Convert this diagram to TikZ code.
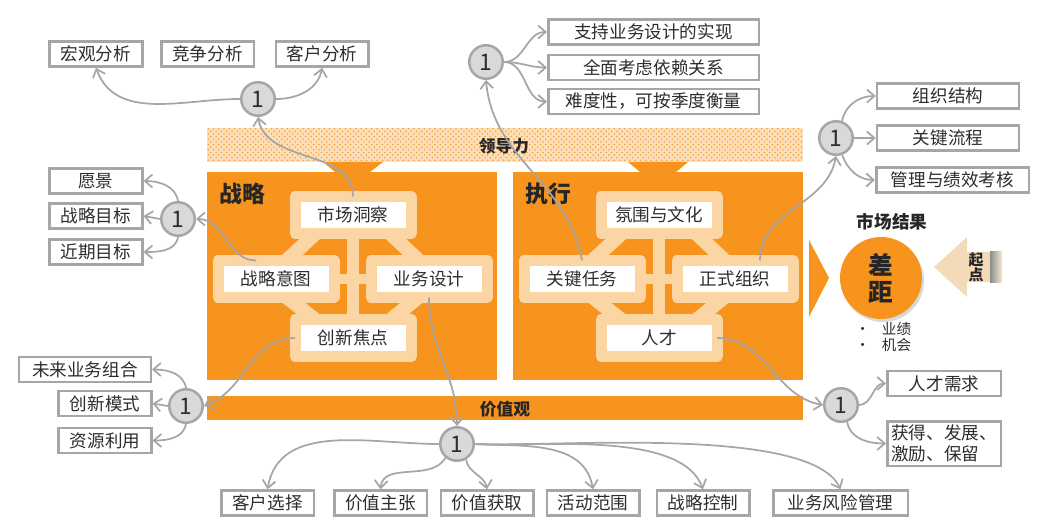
\documentclass[tikz,border=0pt]{standalone}
\usepackage{fontspec}
\setmainfont{Noto Sans CJK SC}
\usetikzlibrary{positioning, arrows.meta, patterns, shadows, backgrounds}
\definecolor{orng}{RGB}{247,148,30}
\definecolor{peach}{RGB}{252,213,165}
\definecolor{sand}{RGB}{244,219,184}
\definecolor{cfill}{RGB}{217,217,217}
\definecolor{lgray}{RGB}{166,166,166}
\definecolor{ink}{RGB}{45,45,45}

\begin{document}
\begin{tikzpicture}[x=0.2mm, y=-0.2mm, >={Straight Barb[length=1.5mm,width=2.6mm]},
    font=\fontsize{10}{12}\selectfont, text=ink,
    box/.style={draw=lgray, line width=0.5mm, fill=white, minimum width=18.5mm, minimum height=5mm, inner sep=1pt},
    num/.style={circle, draw=lgray, line width=0.5mm, fill=cfill, minimum size=6.7mm, inner sep=0pt, font=\fontsize{13}{13}\selectfont},
    inbox/.style={draw=peach, fill=white, line width=2.2mm, line join=round, minimum width=23.2mm, minimum height=7.4mm, inner sep=0pt, outer sep=0pt},
    link/.style={draw=peach, line width=2.8mm},
    conn/.style={->, draw=lgray, line width=0.35mm},
    hdr/.style={font=\fontsize{13}{15}\selectfont\bfseries, text=black!85},
    bar/.style={font=\fontsize{9.5}{11}\selectfont\bfseries, text=black!85}]
    \useasboundingbox (0,0) rectangle (1050,532);

    \node[hdr] (zl) at (242,194) {战略};
    \node[hdr] (zx) at (548,194) {执行};
    \node[bar] (ld) at (504,146) {领导力};
    \node[bar] (jg) at (505,409) {价值观};

    \node[inbox] (sc) at (353,215) {市场洞察};
    \node[inbox] (si) at (276,279) {战略意图};
    \node[inbox] (sd) at (429,279) {业务设计};
    \node[inbox] (sf) at (353,338) {创新焦点};
    \node[inbox] (ec) at (659,215) {氛围与文化};
    \node[inbox] (et) at (582,279) {关键任务};
    \node[inbox] (eo) at (735,279) {正式组织};
    \node[inbox] (ep) at (659,338) {人才};

    \node[box] (a1) at (96,54) {宏观分析};
    \node[box] (a2) at (207.5,54) {竞争分析};
    \node[box] (a3) at (322,54) {客户分析};
    \node[box] (b1) at (96,181) {愿景};
    \node[box] (b2) at (96,216) {战略目标};
    \node[box] (b3) at (96,252) {近期目标};
    \node[box, minimum width=26.3mm] (d1) at (85,369.5) {未来业务组合};
    \node[box] (d2) at (105,403.5) {创新模式};
    \node[box] (d3) at (105,440.5) {资源利用};
    \node[box] (e1) at (267.5,503) {客户选择};
    \node[box] (e2) at (380.5,503) {价值主张};
    \node[box] (e3) at (487,503) {价值获取};
    \node[box] (e4) at (593,503) {活动范围};
    \node[box] (e5) at (703,503) {战略控制};
    \node[box, minimum width=26.9mm] (e6) at (840.5,503) {业务风险管理};
    \node[box, minimum width=42.1mm] (f1) at (653.5,32) {支持业务设计的实现};
    \node[box, minimum width=42.1mm] (f2) at (653.5,67.5) {全面考虑依赖关系};
    \node[box, minimum width=42.1mm] (f3) at (653.5,101.5) {难度性，可按季度衡量};
    \node[box, minimum width=28.4mm] (g1) at (948,96) {组织结构};
    \node[box, minimum width=28.4mm] (g2) at (948,138) {关键流程};
    \node[box, minimum width=30.5mm] (g3) at (952.5,180) {管理与绩效考核};
    \node[box, minimum width=22.7mm] (h1) at (944,383.5) {人才需求};
    \node[box, minimum width=22.7mm, minimum height=8.9mm, align=left] (h2) at (944,443.5) {获得、发展、\\激励、保留};

    \node[num] (n1) at (258,99) {1};
    \node[num] (n2) at (178,219) {1};
    \node[num] (n3) at (186,406) {1};
    \node[num] (n4) at (457,444) {1};
    \node[num] (n5) at (486,62) {1};
    \node[num] (n6) at (836,138) {1};
    \node[num] (n7) at (841,405) {1};

    \node[font=\fontsize{10}{12}\selectfont\bfseries, text=black!85] (sj) at (892,222) {市场结果};
    \node[circle, fill=orng, minimum size=16.4mm, inner sep=0pt, drop shadow={opacity=0.3, shadow xshift=0.4mm, shadow yshift=-0.6mm}, align=center, font=\fontsize{14}{15.3}\selectfont\bfseries, text=black!85] (cj) at (881,278) {差\\距};
    \node[anchor=west, inner sep=0pt, align=left, font=\fontsize{8.3}{8.6}\selectfont] (yj) at (855,337) {\textbullet\hspace{2.4mm}业绩\\\textbullet\hspace{2.4mm}机会};
    \node[font=\fontsize{8.5}{8.6}\selectfont\bfseries, align=center, text=black!85] (qd) at (976,267) {起\\点};

    \draw[conn] (sc.north) to[out=90, in=-80] (n1.south);
    \draw[conn] (n1.west) to[out=180, in=-70] (a1.south);
    \draw[conn] (n1.east) to[out=0, in=-100] (a3.south);
    \draw[conn] ([xshift=-4mm]si.north) to[out=180, in=0] (n2.east);
    \draw[conn] (n2.north) to[out=100, in=0] (b1.east);
    \draw[conn] (n2.west) -- (b2.east);
    \draw[conn] (n2.south) to[out=-100, in=0] (b3.east);
    \draw[conn] (sf.west) to[out=180, in=20] (n3.east);
    \draw[conn] (n3.north) to[out=100, in=0] (d1.east);
    \draw[conn] (n3.west) -- (d2.east);
    \draw[conn] (n3.south) to[out=-100, in=0] (d3.east);
    \draw[conn] (sd.south) to[out=-90, in=90] (n4.north);
    \draw[conn] (n4.west) to[out=180, in=80] (e1.north);
    \draw[conn] (n4.-130) to[out=-120, in=85] (e2.north);
    \draw[conn] (n4.-60) to[out=-80, in=100] (e3.north);
    \draw[conn] (n4.east) to[out=-3, in=100] (e4.north);
    \draw[conn] (n4.east) to[out=-3, in=110, looseness=0.7] (e5.north);
    \draw[conn] (n4.east) to[out=-3, in=115, looseness=0.5] (e6.north);
    \draw[conn] (et.north) to[out=100, in=-85] (n5.south);
    \draw[conn] (n5.east) to[out=0, in=180] (f1.west);
    \draw[conn] (n5.east) to[out=0, in=180] (f2.west);
    \draw[conn] (n5.east) to[out=0, in=180] (f3.west);
    \draw[conn] ([xshift=5mm]eo.north) to[out=90, in=-100] (n6.south);
    \draw[conn] (n6.70) to[out=80, in=180] (g1.west);
    \draw[conn] (n6.east) -- (g2.west);
    \draw[conn] (n6.-70) to[out=-70, in=180] (g3.west);
    \draw[conn] (ep.east) to[out=0, in=170] (n7.west);
    \draw[conn] (n7.east) to[out=0, in=180] (h1.west);
    \draw[conn] (n7.-70) to[out=-80, in=180] (h2.west);

    \begin{scope}[on background layer]
    \fill[orng!30!white] (207,128) rectangle (803,162);
    \fill[pattern=crosshatch dots, pattern color=orng!90] (207,128) rectangle (803,162);
    \fill[orng] (323,162) -- (383,162) -- (370,172) -- (335,172) -- cycle;
    \fill[orng] (628,162) -- (688,162) -- (676,172) -- (640,172) -- cycle;
    \fill[orng] (207,172) rectangle (497,380);
    \fill[orng] (513,172) rectangle (803,380);
    \fill[orng] (207,396) rectangle (803,420);
    \fill[orng] (809,240) -- (829,278) -- (809,317) -- cycle;
    \fill[sand] (934,267) -- (967,237) -- (967,252) -- (1002,252) -- (1002,282) -- (967,282) -- (967,297) -- cycle;
    \shade[left color=gray!90, right color=sand!60!white] (990,252) rectangle (1002,282);
    \draw[link] ([xshift=-6.6mm,yshift=0.8mm]sc.south) -- ([xshift=1.2mm,yshift=-0.8mm]si.north)
        ([xshift=6.6mm,yshift=0.8mm]sc.south) -- ([xshift=-1.2mm,yshift=-0.8mm]sd.north)
        ([xshift=1.2mm,yshift=0.8mm]si.south) -- ([xshift=-6.6mm,yshift=-0.8mm]sf.north)
        ([xshift=-1.2mm,yshift=0.8mm]sd.south) -- ([xshift=6.6mm,yshift=-0.8mm]sf.north);
    \draw[link] ([xshift=-6.6mm,yshift=0.8mm]ec.south) -- ([xshift=1.2mm,yshift=-0.8mm]et.north)
        ([xshift=6.6mm,yshift=0.8mm]ec.south) -- ([xshift=-1.2mm,yshift=-0.8mm]eo.north)
        ([xshift=1.2mm,yshift=0.8mm]et.south) -- ([xshift=-6.6mm,yshift=-0.8mm]ep.north)
        ([xshift=-1.2mm,yshift=0.8mm]eo.south) -- ([xshift=6.6mm,yshift=-0.8mm]ep.north);
    \draw[link, line width=2.3mm] (sc) -- (sf) (ec) -- (ep);
    \draw[link, line width=1.9mm] (si) -- (sd) (et) -- (eo);
    \end{scope}
\end{tikzpicture}
\end{document}
